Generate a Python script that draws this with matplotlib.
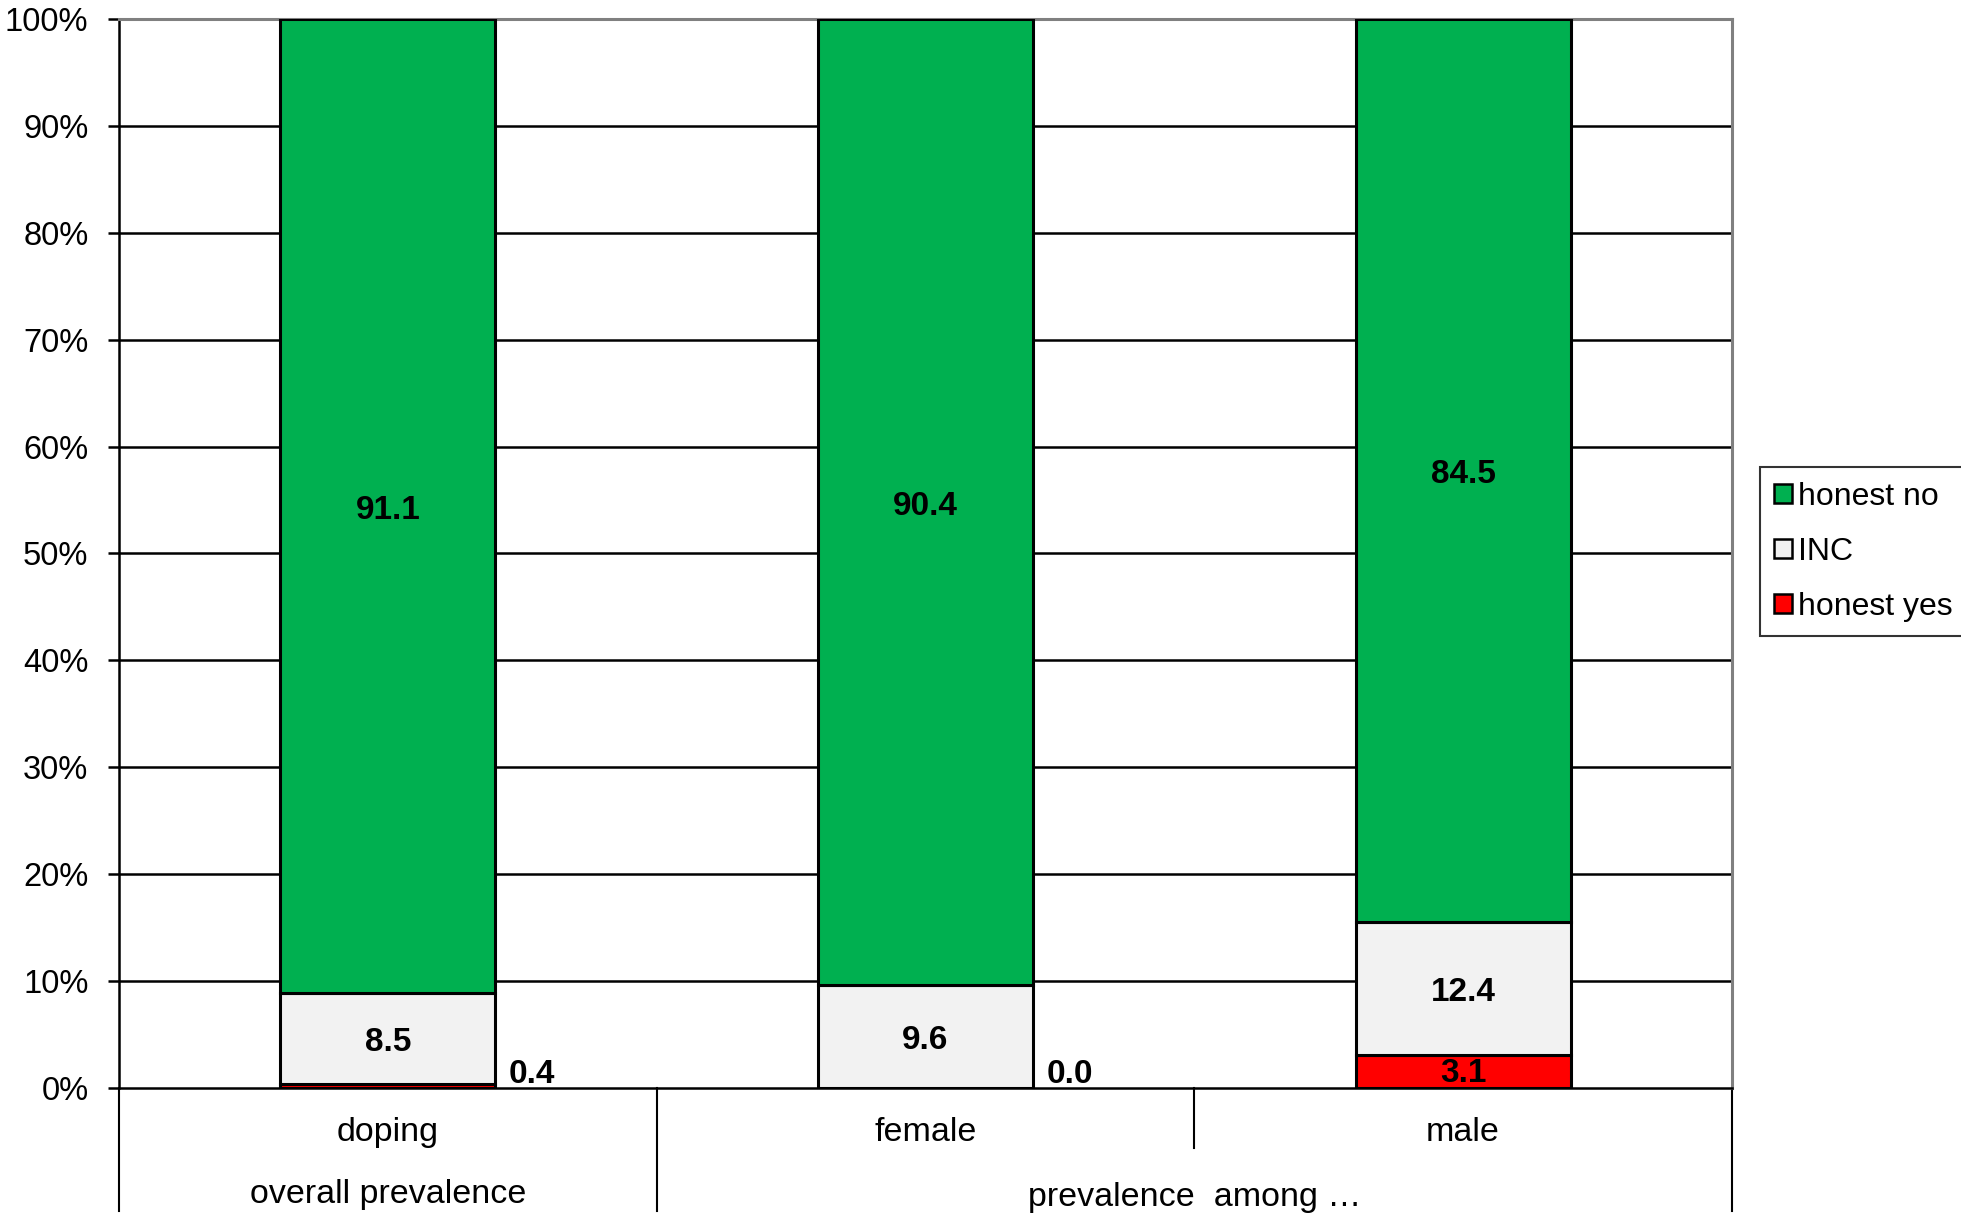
import matplotlib.pyplot as plt
import numpy as np
from matplotlib.patches import Patch

plt.rcParams['font.family'] = ['Liberation Sans', 'DejaVu Sans']

# data
categories = ["doping", "female", "male"]
groups = ["overall prevalence", "prevalence  among \u2026"]
honest_yes = np.array([0.4, 0.0, 3.1])
inc = np.array([8.5, 9.6, 12.4])
honest_no = np.array([91.1, 90.4, 84.5])
series_names = ["honest no", "INC", "honest yes"]

green = "#00B050"
grey = "#F2F2F2"
red = "#FF0000"

fig = plt.figure(figsize=(19.61, 12.15), dpi=100)
ax = fig.add_axes([0.0607, 0.1045, 0.8225, 0.8800])

x = np.arange(len(categories))
w = 0.4
ax.bar(x, honest_yes, w, color=red, edgecolor="black", linewidth=2.2, zorder=3)
ax.bar(x, inc, w, bottom=honest_yes, color=grey, edgecolor="black", linewidth=2.2, zorder=3)
ax.bar(x, honest_no, w, bottom=honest_yes + inc, color=green, edgecolor="black", linewidth=2.2, zorder=3)

# labels
for i in range(len(categories)):
    ax.text(x[i], honest_yes[i] + inc[i] + honest_no[i] / 2 - 0.4, f"{honest_no[i]:.1f}",
            ha="center", va="center", fontsize=24, fontweight="bold", zorder=4)
    ax.text(x[i], honest_yes[i] + inc[i] / 2 - 0.4, f"{inc[i]:.1f}",
            ha="center", va="center", fontsize=24, fontweight="bold", zorder=4)
    if honest_yes[i] >= 2:
        ax.text(x[i], honest_yes[i] / 2 - 0.2, f"{honest_yes[i]:.1f}",
                ha="center", va="center", fontsize=24, fontweight="bold", zorder=4)
    else:
        ax.text(x[i] + w / 2 + 0.025, -0.2, f"{honest_yes[i]:.1f}",
                ha="left", va="bottom", fontsize=24, fontweight="bold", zorder=4)

ax.set_xlim(-0.5, 2.5)
ax.set_ylim(0, 100)
ax.set_yticks(np.arange(0, 101, 10))
ax.set_yticklabels([f"{v}%" for v in range(0, 101, 10)], fontsize=23.5)
ax.tick_params(axis="y", length=8, width=1.8, pad=14, color="black")
ax.set_xticks([])

for v in range(10, 100, 10):
    ax.axhline(v, color="black", linewidth=1.8, zorder=1)

ax.spines["left"].set_color("black")
ax.spines["left"].set_linewidth(1.8)
ax.spines["bottom"].set_color("black")
ax.spines["bottom"].set_linewidth(1.8)
ax.spines["top"].set_color("#808080")
ax.spines["top"].set_linewidth(2.2)
ax.spines["right"].set_color("#808080")
ax.spines["right"].set_linewidth(2.2)

# multi-level category axis
tr = ax.get_xaxis_transform()
for sx, depth in [(-0.5, -0.115), (0.5, -0.115), (1.5, -0.056), (2.5, -0.115)]:
    ax.plot([sx, sx], [0, depth], transform=tr, color="black", linewidth=1.5, clip_on=False)
for i, c in enumerate(categories):
    ax.text(x[i], -0.042, c, transform=tr, ha="center", va="center", fontsize=24.5)
ax.text(0, -0.0995, groups[0], transform=tr, ha="center", va="center", fontsize=24.5)
ax.text(1.5, -0.1025, groups[1], transform=tr, ha="center", va="center", fontsize=24.5)

handles = [Patch(facecolor=green, edgecolor="black", linewidth=1.8),
           Patch(facecolor=grey, edgecolor="black", linewidth=1.8),
           Patch(facecolor=red, edgecolor="black", linewidth=1.8)]
leg = fig.legend(handles, series_names, loc="center left", bbox_to_anchor=(0.8975, 0.546),
                 fontsize=23, frameon=True, fancybox=False, handlelength=0.55, handleheight=0.55,
                 handletextpad=0.2, borderpad=0.45, labelspacing=0.78, borderaxespad=0)
leg.get_frame().set_edgecolor("black")
leg.get_frame().set_linewidth(1.5)

fig.savefig("out.png", dpi=100)
